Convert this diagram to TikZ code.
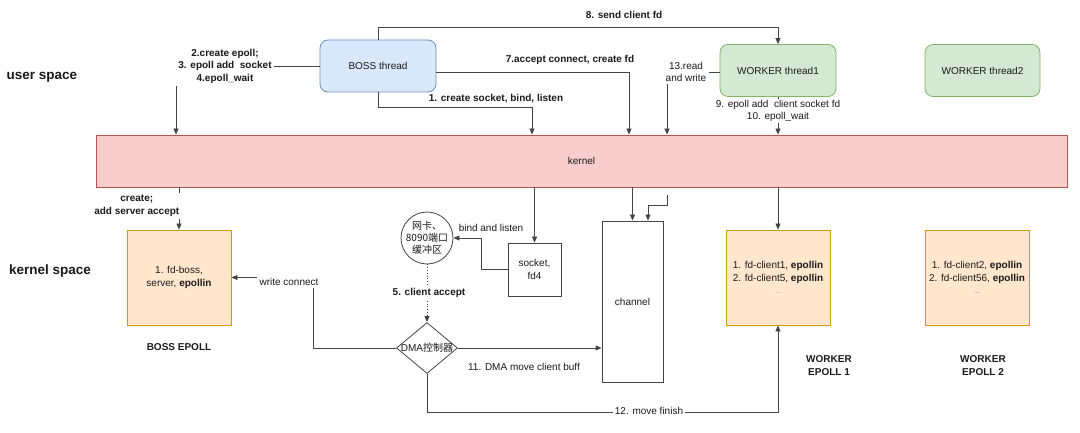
\documentclass[tikz,border=0pt]{standalone}
\usepackage{fontspec}
\setmainfont{Liberation Sans}
\newfontfamily\cjk{Noto Sans CJK SC}
\usetikzlibrary{arrows.meta,shapes.geometric,calc}
\definecolor{bluefill}{HTML}{DAE8FC}
\definecolor{blueline}{HTML}{6C8EBF}
\definecolor{greenfill}{HTML}{D5E8D4}
\definecolor{greenline}{HTML}{82B366}
\definecolor{redfill}{HTML}{F8CECC}
\definecolor{redline}{HTML}{B85450}
\definecolor{orfill}{HTML}{FFE6CC}
\definecolor{orline}{HTML}{D79B00}
\definecolor{ln}{HTML}{444444}
\definecolor{txt}{HTML}{1A1A1A}
\begin{document}
\begin{tikzpicture}[x=1pt,y=-1pt,
  font=\fontsize{10}{12.5}\selectfont, text=txt,
  arr/.style={draw=ln, line width=0.8pt, -{Triangle[length=6pt,width=5pt]}},
  thr/.style={rounded corners=8pt, line width=0.8pt, minimum width=116pt, minimum height=52pt, align=center, inner sep=0pt},
  epbox/.style={draw=orline, fill=orfill, line width=0.8pt, minimum width=104pt, minimum height=95pt, align=center, inner sep=0pt},
  plainbox/.style={draw=ln, line width=0.8pt, fill=white, align=center, inner sep=0pt},
  lbl/.style={fill=white, inner sep=2.5pt, align=center},
  blbl/.style={lbl, font=\fontsize{10}{12.5}\selectfont\bfseries},
  nlbl/.style={inner sep=0pt, align=center},
  spclbl/.style={font=\fontsize{13.5}{16}\selectfont\bfseries, inner sep=0pt},
  captxt/.style={font=\fontsize{10}{12.5}\selectfont\bfseries, align=center, inner sep=0pt}
]
\useasboundingbox (0,0) rectangle (1080,433);

% threads
\node[thr, draw=blueline, fill=bluefill] (boss) at (378,66) {BOSS thread};
\node[thr, draw=greenline, fill=greenfill] (w1) at (778,70.5) {WORKER thread1};
\node[thr, draw=greenline, fill=greenfill, minimum width=115pt] (w2) at (982.5,70.5) {WORKER thread2};

% kernel
\node[draw=redline, fill=redfill, line width=0.8pt, minimum width=971pt, minimum height=52pt, inner sep=0pt] (kernel) at (581.5,161) {kernel};

% space labels
\node[spclbl] (us) at (42,77) {user space};
\node[spclbl] (ks) at (50,271) {kernel space};

% epoll boxes
\node[epbox] (bep) at (179,277.5) {1. fd-boss,\\server, \textbf{epollin}};
\node[epbox] (wep1) at (778,277.5) {1. fd-client1, \textbf{epollin}\\2. fd-client5, \textbf{epollin}\\{\fontsize{7}{12.5}\selectfont\color{gray}...}};
\node[epbox] (wep2) at (977,277.5) {1. fd-client2, \textbf{epollin}\\2. fd-client56, \textbf{epollin}\\{\fontsize{7}{12.5}\selectfont\color{gray}...}};

\node[captxt] (bepc) at (179,347) {BOSS EPOLL};
\node[captxt] (wep1c) at (829,365.5) {WORKER\\EPOLL 1};
\node[captxt] (wep2c) at (983,365.5) {WORKER\\EPOLL 2};

% lower nodes
\node[plainbox, minimum width=61pt, minimum height=161pt] (chan) at (632.5,301.5) {channel};
\node[plainbox, minimum width=53pt, minimum height=53pt] (sock) at (534.5,269.5) {socket,\\fd4};
\node[circle, draw=ln, line width=0.8pt, fill=white, minimum size=52pt, inner sep=0pt,
  label={[align=center, font=\cjk\fontsize{10}{12}\selectfont, inner sep=0pt]center:网卡、\\8090端口\\缓冲区}] (circ) at (427,238) {};
\node[diamond, draw=ln, line width=0.8pt, fill=white, minimum width=61pt, minimum height=51pt, inner sep=0pt,
  label={[inner sep=0pt]center:DMA{\cjk 控制器}}] (dma) at (427,348) {};

% top edges
\draw[arr] (boss.west) -| (kernel.north -| 176,0);
\node[blbl] (l234) at (225,66) {2.create epoll;\\3. epoll add~~socket\\4.epoll\_wait};

\draw[arr] (boss.south) -- ++(0,15) -| (kernel.north -| 532,0);
\node[nlbl, font=\fontsize{10}{12.5}\selectfont\bfseries] (l1) at (496,99) {1. create socket, bind, listen};

\draw[arr] ($(boss.east)+(0,6)$) -| (kernel.north -| 629,0);
\node[nlbl, font=\fontsize{10}{12.5}\selectfont\bfseries] (l7) at (570,60) {7.accept connect, create fd};

\draw[arr] (boss.north) -- ++(0,-12) -| (w1.north);
\node[nlbl, font=\fontsize{10}{12.5}\selectfont\bfseries] (l8) at (624,15) {8. send client fd};

\draw[arr] ($(w1.west)+(0,1.5)$) -| (kernel.north -| 667,0);
\node[lbl] (l13) at (686,72) {13.read\\and write};

\draw[arr] (w1.south) -- (w1.south |- kernel.north);
\node[lbl, inner sep=1.5pt] (l910) at (778,111) {9. epoll add~~client socket fd\\10. epoll\_wait};

% kernel to lower
\draw[arr] (kernel.south -| bep.north) -- (bep.north);
\node[blbl, anchor=east] (lcr) at (182,206) {create;\\add server accept};
\draw[arr] (kernel.south -| sock.north) -- (sock.north);
\draw[arr] (kernel.south -| chan.north) -- (chan.north);
\draw[arr] ($(kernel.south -| 667,0)+(0,8)$) -- ++(0,10) -| ($(chan.north)+(15.5,0)$);
\draw[arr] (kernel.south -| wep1.north) -- (wep1.north);

% lower edges
\draw[arr] (sock.west) -- ++(-26,0) |- (circ.east);
\node[nlbl] (lbind) at (491,228) {bind and listen};

\draw[arr, dotted, line width=0.9pt] (circ.south) -- (dma.north);
\node[blbl] (l5) at (429,293) {5. client accept};

\draw[arr] (dma.east) -- (dma.east -| chan.west);
\node[nlbl] (l11) at (524,367) {11. DMA move client buff};

\draw[arr] (dma.west) -| ($(bep.east)+(82,0)$) -- (bep.east);
\node[lbl] (lwc) at (289,282) {write connect};

\draw[arr] (dma.south) |- ($(wep1.south)+(0,87)$) -- (wep1.south);
\node[lbl, inner sep=1.5pt] (l12) at (649,411) {12. move finish};

\end{tikzpicture}
\end{document}
